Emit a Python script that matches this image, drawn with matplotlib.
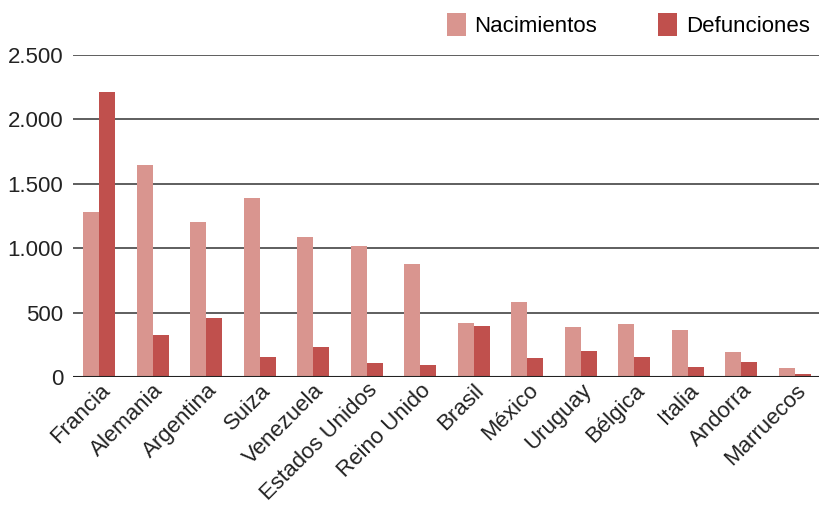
import numpy as np
import matplotlib
matplotlib.use("Agg")
from matplotlib import pyplot as plt
from matplotlib.ticker import FuncFormatter

plt.rcParams['font.family'] = ['Liberation Sans', 'DejaVu Sans']

paises = ["Francia", "Alemania", "Argentina", "Suiza", "Venezuela", "Estados Unidos",
          "Reino Unido", "Brasil", "México", "Uruguay", "Bélgica", "Italia",
          "Andorra", "Marruecos"]
nacimientos = [1280, 1645, 1205, 1390, 1088, 1017, 877, 420, 582, 388, 411, 365, 194, 70]
defunciones = [2212, 326, 458, 155, 233, 109, 93, 396, 148, 202, 155, 78, 116, 23]

c_nac = "#D9958F"
c_def = "#C0504D"

fig = plt.figure(figsize=(8.2, 5.05), dpi=100)
ax = fig.add_axes([73 / 820, 128 / 505, 747 / 820, 322 / 505])

x = np.arange(len(paises))
w = 0.3
ax.bar(x - w / 2, nacimientos, w, color=c_nac, label="Nacimientos", zorder=3)
ax.bar(x + w / 2, defunciones, w, color=c_def, label="Defunciones", zorder=3)

ax.set_xlim(-0.49, 13.47)
ax.set_ylim(0, 2500)
ax.set_yticks([0, 500, 1000, 1500, 2000, 2500])
ax.yaxis.set_major_formatter(FuncFormatter(lambda v, p: f"{int(v):,}".replace(",", ".")))
ax.grid(axis='y', color="#333333", linewidth=1.1, zorder=0)
ax.axhline(0, color="#222222", linewidth=1.5, zorder=4)

for s in ax.spines.values():
    s.set_visible(False)
ax.tick_params(axis='both', length=0, labelsize=16, colors="#222222")
ax.tick_params(axis='y', pad=7)
ax.tick_params(axis='x', pad=2)
ax.set_xticks(x)
ax.set_xticklabels(paises, rotation=45, ha='right', rotation_mode='anchor')

fig.legend(loc='upper right', bbox_to_anchor=(1.0, 0.994), ncol=2, frameon=False,
           fontsize=16, handlelength=0.85, handleheight=1.2, handletextpad=0.4,
           columnspacing=2.75, borderaxespad=0.25, borderpad=0.2)

fig.savefig("out.png", dpi=100)
